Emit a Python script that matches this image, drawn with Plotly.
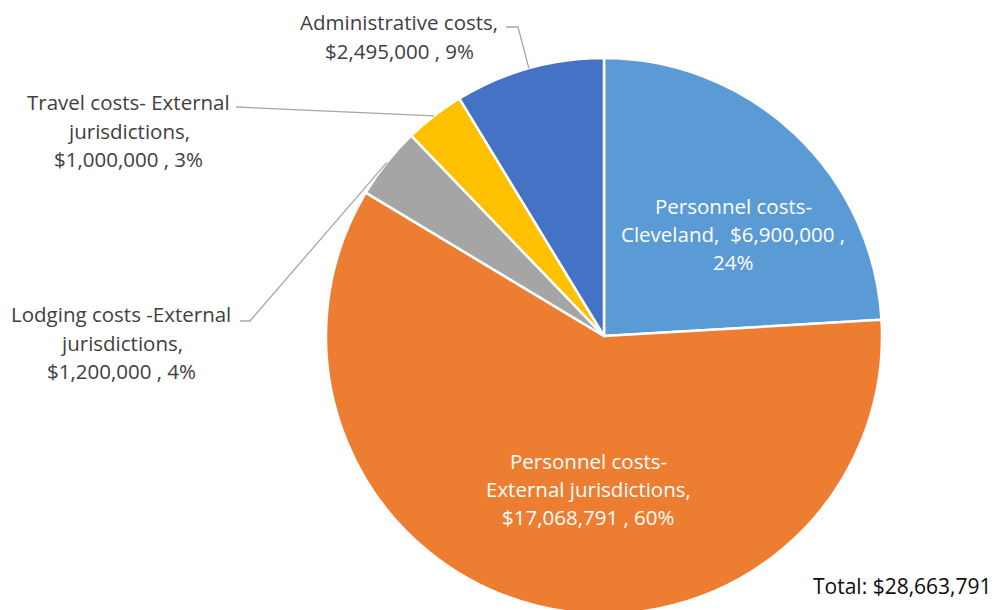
import math
import plotly.graph_objects as go

# ---- data ----
categories = [
    "Personnel costs- Cleveland",
    "Personnel costs- External jurisdictions",
    "Lodging costs -External jurisdictions",
    "Travel costs- External jurisdictions",
    "Administrative costs",
]
values = [6900000, 17068791, 1200000, 1000000, 2495000]
colors = ["#5B9BD5", "#ED7D31", "#A5A5A5", "#FFC000", "#4472C4"]
total_label = "Total: $28,663,791"

# ---- layout geometry (screen pixels) ----
OFF = 8            # page body margin
CX, CY, R = 604, 336, 278
W = 1000
H = (CY - OFF) + R
FONT = "Open Sans"
FS = 20.5

total = sum(values)
money = [f"${v:,}" for v in values]
pct = [f"{round(100 * v / total)}%" for v in values]

# label lines per slice
label_lines = [
    ["Personnel costs-", f"Cleveland,  {money[0]} ,", pct[0]],
    ["Personnel costs-", "External jurisdictions,", f"{money[1]} , {pct[1]}"],
    ["Lodging costs -External", "jurisdictions,", f"{money[2]} , {pct[2]}"],
    ["Travel costs- External", "jurisdictions,", f"{money[3]} , {pct[3]}"],
    ["Administrative costs,", f"{money[4]} , {pct[4]}"],
]
# label block placement: (center x, first baseline y, line step, colour)
label_pos = [
    (733, 212, 28, "white"),
    (588, 467, 28, "white"),
    (121, 320, 28.5, "#404040"),
    (128, 108, 28.5, "#404040"),
    (399, 28, 29, "#404040"),
]
# leader lines: label-side points; last point is on the pie edge
leader_start = {
    2: [(240, 321), (250, 321)],
    3: [(236, 107)],
    4: [(506, 27), (518, 27)],
}
BASE_SHIFT = 9


def px(x):
    return (x - OFF) / W


def py(y):
    return 1 - (y - OFF) / H


fig = go.Figure(
    go.Pie(
        values=values,
        labels=categories,
        marker=dict(colors=colors, line=dict(color="white", width=2.5)),
        sort=False,
        direction="clockwise",
        rotation=0,
        textinfo="none",
        hoverinfo="label+value+percent",
        domain=dict(x=[px(CX - R), px(CX + R)], y=[0, 2 * R / H]),
        showlegend=False,
    )
)

annotations = []
for i, lines in enumerate(label_lines):
    cx, y0, step, col = label_pos[i]
    for k, line in enumerate(lines):
        base = y0 + k * step
        annotations.append(
            dict(
                x=px(cx), y=py(base + BASE_SHIFT), xref="paper", yref="paper",
                text=line, showarrow=False, xanchor="center", yanchor="bottom",
                borderpad=0,
                font=dict(family=FONT, size=FS, color=col),
            )
        )

annotations.append(
    dict(
        x=px(993), y=py(592 + BASE_SHIFT), xref="paper", yref="paper",
        text=total_label, showarrow=False, xanchor="right", yanchor="bottom",
        borderpad=0,
        font=dict(family=FONT, size=FS + 0.5, color="#0d0d0d"),
    )
)

shapes = []
cum = 0
for i, v in enumerate(values):
    mid = (cum + v / 2) / total
    cum += v
    if i not in leader_start:
        continue
    th = 2 * math.pi * mid
    ex = CX + R * math.sin(th)
    ey = CY - R * math.cos(th)
    pts = leader_start[i] + [(ex, ey)]
    path = "M " + " L ".join(f"{px(x)},{py(y)}" for x, y in pts)
    shapes.append(
        dict(type="path", path=path, xref="paper", yref="paper",
             line=dict(color="#A6A6A6", width=1.3))
    )

fig.update_layout(
    width=W, height=H,
    margin=dict(l=0, r=0, t=0, b=0),
    paper_bgcolor="white", plot_bgcolor="white",
    annotations=annotations, shapes=shapes,
    font=dict(family=FONT),
)

fig.write_html("out.html")
